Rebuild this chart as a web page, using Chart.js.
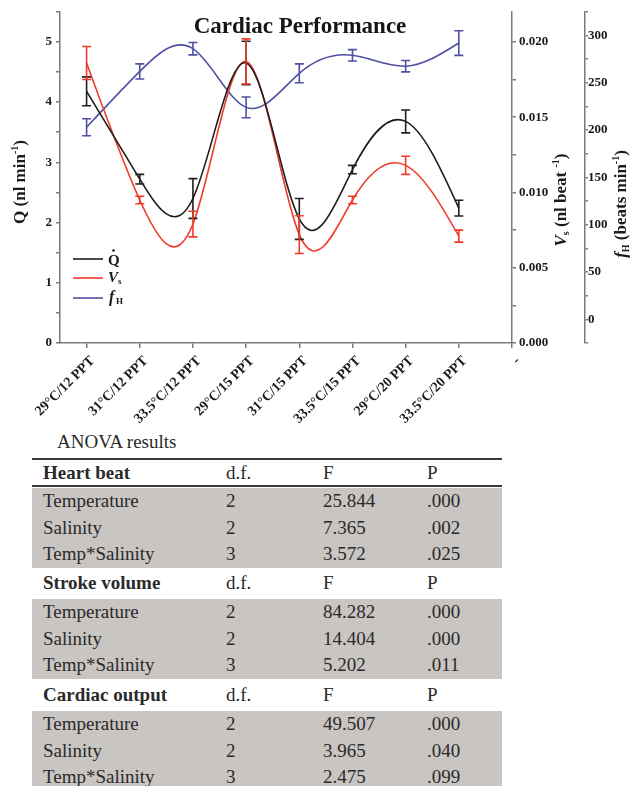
<!DOCTYPE html>
<html><head><meta charset="utf-8">
<script src="https://cdn.jsdelivr.net/npm/chart.js@4.4.1/dist/chart.umd.min.js"></script>
<style>
html,body{margin:0;padding:0;background:#fff;}
body{width:639px;height:786px;overflow:hidden;position:relative;font-family:"Liberation Serif","Times New Roman",serif;color:#2a2a2a;}
#wrap{position:absolute;left:0;top:0;width:639px;height:425px;}
#anova-title{position:absolute;left:57px;top:430px;font-size:19px;line-height:24px;}
.rule{position:absolute;left:32px;width:470px;height:2px;background:#3a3a3a;}
.row{position:absolute;left:32px;width:470px;font-size:19px;}
.row span{position:absolute;top:0;white-space:nowrap;}
.gray{background:#c9c5c2;}
</style></head>
<body>
<div id="wrap"><canvas id="c" width="639" height="425"></canvas></div>
<div id="anova-title">ANOVA results</div>
<div id="table"></div>
<script>
// ---- chart data ----
const categories = ['29°C/12 PPT','31°C/12 PPT','33.5°C/12 PPT','29°C/15 PPT','31°C/15 PPT','33.5°C/15 PPT','29°C/20 PPT','33.5°C/20 PPT'];
const extraTickLabel = '-';
const qValues  = [4.18, 2.72, 2.40, 4.65, 2.06, 2.88, 3.68, 2.24];
const qErrors  = [0.24, 0.08, 0.33, 0.36, 0.34, 0.07, 0.19, 0.13];
const vsValues = [0.0186, 0.0095, 0.0079, 0.0187, 0.0072, 0.0095, 0.0118, 0.0071];
const vsErrors = [0.0011, 0.00025, 0.00085, 0.0015, 0.00125, 0.00025, 0.0006, 0.0004];
const fhValues = [203, 262, 286, 224, 260, 279, 267.5, 292];
const fhErrors = [9, 8, 6.5, 11, 10, 6, 6, 13];
const qTicks  = [0,0.5,1,1.5,2,2.5,3,3.5,4,4.5,5,5.5];
const vsTicks = [0,0.0025,0.005,0.0075,0.01,0.0125,0.015,0.0175,0.02];
const fhTicks = [-25,0,25,50,75,100,125,150,175,200,225,250,275,300,325];

// ---- ANOVA table data ----
const sectionTitles = ['Heart beat','Stroke volume','Cardiac output'];
const factorNames = ['Temperature','Salinity','Temp*Salinity'];
const dfValues = [['2','2','3'],['2','2','3'],['2','2','3']];
const fValues = [['25.844','7.365','3.572'],['84.282','14.404','5.202'],['49.507','3.965','2.475']];
const pValues = [['.000','.002','.025'],['.000','.000','.011'],['.000','.040','.099']];

const FONT = '"Liberation Serif","Times New Roman",serif';
const BLACK = '#1e1e1e', RED = '#ef3b2c', BLUE = '#4f4fa3';
const AXIS = '#7a7a7a';

function pts(arr){ return arr.map((v,i)=>({x:i+1,y:v})); }

// natural cubic spline derivatives (per-segment parameter) for Bezier control points
function naturalDerivs(P){
  const n = P.length, a=[], b=[], c=[], r=[];
  b[0]=2; c[0]=1; r[0]=3*(P[1]-P[0]); a[0]=0;
  for(let i=1;i<n-1;i++){ a[i]=1; b[i]=4; c[i]=1; r[i]=3*(P[i+1]-P[i-1]); }
  a[n-1]=1; b[n-1]=2; c[n-1]=0; r[n-1]=3*(P[n-1]-P[n-2]);
  for(let i=1;i<n;i++){ const m=a[i]/b[i-1]; b[i]-=m*c[i-1]; r[i]-=m*r[i-1]; }
  const D=new Array(n); D[n-1]=r[n-1]/b[n-1];
  for(let i=n-2;i>=0;i--) D[i]=(r[i]-c[i]*D[i+1])/b[i];
  return D;
}
const splinePlugin = {
  id:'spline',
  beforeDatasetsDraw(chart){
    chart.data.datasets.forEach((ds,di)=>{
      const meta = chart.getDatasetMeta(di);
      const p = meta.data;
      ['x','y'].forEach(k=>{
        const P = p.map(e=>e[k]);
        const D = naturalDerivs(P);
        p.forEach((e,i)=>{ e['cp1'+k] = P[i]-D[i]/3; e['cp2'+k] = P[i]+D[i]/3; });
      });
      if(meta.dataset) meta.dataset._path = undefined;
    });
  }
};

const errorBarPlugin = {
  id:'errorBars',
  afterDatasetsDraw(chart){
    const ctx = chart.ctx;
    chart.data.datasets.forEach((ds,di)=>{
      const meta = chart.getDatasetMeta(di);
      const ys = chart.scales[ds.yAxisID];
      ctx.save();
      ctx.strokeStyle = ds.borderColor; ctx.lineWidth = 1.6;
      meta.data.forEach((el,i)=>{
        const v = ds.data[i].y, e = ds.errors[i];
        const x = el.x, y1 = ys.getPixelForValue(v+e), y2 = ys.getPixelForValue(v-e);
        ctx.beginPath();
        ctx.moveTo(x,y1); ctx.lineTo(x,y2);
        ctx.moveTo(x-4.5,y1); ctx.lineTo(x+4.5,y1);
        ctx.moveTo(x-4.5,y2); ctx.lineTo(x+4.5,y2);
        ctx.stroke();
      });
      ctx.restore();
    });
  }
};

function drawRich(ctx, parts, cx, cy, rot){
  ctx.save();
  ctx.translate(cx,cy); ctx.rotate(rot);
  let w = 0;
  parts.forEach(p=>{ ctx.font = p.font; p.w = ctx.measureText(p.t).width; w += p.w; });
  let x = -w/2;
  ctx.textBaseline = 'middle'; ctx.textAlign = 'left'; ctx.fillStyle = '#1a1a1a';
  parts.forEach(p=>{ ctx.font = p.font; ctx.fillText(p.t, x, p.dy||0); x += p.w; });
  ctx.restore();
}

const decorPlugin = {
  id:'decor',
  afterDraw(chart){
    const ctx = chart.ctx;
    const B16 = 'bold 17px '+FONT, BI16 = 'italic bold 17px '+FONT, B10 = 'bold 10px '+FONT;
    ctx.save();
    ctx.font = 'bold 23px '+FONT; ctx.fillStyle = '#151515';
    ctx.textAlign = 'center'; ctx.textBaseline = 'middle';
    ctx.fillText('Cardiac Performance', 300, 27);
    ctx.restore();
    drawRich(ctx,[{t:'Q (nl min',font:B16},{t:'-1',font:B10,dy:-6},{t:')',font:B16}], 21, 182, -Math.PI/2);
    drawRich(ctx,[{t:'V',font:BI16},{t:'s',font:B10,dy:4},{t:' (nl beat ',font:B16},{t:'-1',font:B10,dy:-6},{t:')',font:B16}], 562, 200, -Math.PI/2);
    drawRich(ctx,[{t:'f',font:BI16},{t:'H',font:B10,dy:4},{t:' (beats min',font:B16},{t:'-1',font:B10,dy:-6},{t:')',font:B16}], 622, 204, -Math.PI/2);
    const items = [{c:BLACK,y:259},{c:RED,y:278},{c:BLUE,y:298}];
    ctx.save();
    items.forEach(it=>{
      ctx.strokeStyle = it.c; ctx.lineWidth = 1.6;
      ctx.beginPath(); ctx.moveTo(73,it.y); ctx.lineTo(103,it.y); ctx.stroke();
    });
    ctx.fillStyle = '#1a1a1a'; ctx.textBaseline = 'middle'; ctx.textAlign='left';
    ctx.font = 'bold 15px '+FONT;
    ctx.fillText('Q', 108, 261);
    ctx.beginPath(); ctx.arc(113.5, 250.5, 1.3, 0, Math.PI*2); ctx.fill();
    ctx.font = 'italic bold 15px '+FONT; ctx.fillText('V', 108, 278);
    ctx.font = 'bold 9px '+FONT; ctx.fillText('s', 118, 282);
    ctx.font = 'italic bold 16px '+FONT; ctx.fillText('f', 109, 298);
    ctx.font = 'bold 9px '+FONT; ctx.fillText('H', 116, 302);
    ctx.restore();
  }
};

const gridCommon = {drawOnChartArea:false, drawTicks:true, tickLength:4, color:AXIS, lineWidth:1.5};
const borderCommon = {display:true, color:AXIS, width:1.5};
const tickFont = {family:FONT, weight:'bold', size:13};

new Chart(document.getElementById('c'), {
  type:'line',
  data:{ datasets:[
    {label:'Q', data:pts(qValues), errors:qErrors, yAxisID:'y', borderColor:BLACK},
    {label:'Vs', data:pts(vsValues), errors:vsErrors, yAxisID:'yVs', borderColor:RED},
    {label:'fH', data:pts(fhValues), errors:fhErrors, yAxisID:'yFh', borderColor:BLUE}
  ]},
  options:{
    responsive:false, animation:false,
    layout:{padding:{top:8,left:0,right:0,bottom:0}},
    elements:{ line:{tension:0.4, borderWidth:1.6, fill:false, capBezierPoints:false}, point:{radius:0, hoverRadius:0} },
    plugins:{legend:{display:false}, title:{display:false}, tooltip:{enabled:false}},
    scales:{
      x:{ type:'linear', min:0.5, max:9,
        afterBuildTicks:s=>{ s.ticks = [1,2,3,4,5,6,7,8,9].map(v=>({value:v})); },
        ticks:{autoSkip:false, minRotation:45, maxRotation:45, padding:5, labelOffset:6, color:'#1a1a1a', font:{family:FONT, weight:'bold', size:14},
          callback:v=> v<=categories.length ? categories[v-1] : extraTickLabel},
        grid:{...gridCommon, tickLength:5}, border:borderCommon,
        afterFit:s=>{ s.height = 82; } },
      y:{ position:'left', min:0, max:5.5,
        afterBuildTicks:s=>{ s.ticks = qTicks.map(v=>({value:v})); },
        ticks:{color:'#1a1a1a', font:tickFont, padding:4, callback:v=> Number.isInteger(v) ? String(v) : ''},
        grid:gridCommon, border:borderCommon,
        afterFit:s=>{ s.width = 60; } },
      yVs:{ position:'right', weight:0, min:0, max:0.022,
        afterBuildTicks:s=>{ s.ticks = vsTicks.map(v=>({value:v})); },
        ticks:{color:'#1a1a1a', font:tickFont, padding:3, callback:v=> (Math.abs(v/0.005-Math.round(v/0.005))<1e-6) ? v.toFixed(3) : ''},
        grid:gridCommon, border:borderCommon,
        afterFit:s=>{ s.width = 73; } },
      yFh:{ position:'right', weight:1, min:-25, max:325,
        afterBuildTicks:s=>{ s.ticks = fhTicks.map(v=>({value:v})); },
        ticks:{color:'#1a1a1a', font:tickFont, padding:0, callback:v=> (v%50===0 && v>=0 && v<=300) ? String(v) : ''},
        grid:{...gridCommon, tickLength:3}, border:borderCommon,
        afterFit:s=>{ s.width = 54; } }
    }
  },
  plugins:[splinePlugin, errorBarPlugin, decorPlugin]
});

// ---- ANOVA table ----
(function(){
  const t = document.getElementById('table');
  const cols = [11, 194, 291, 395];
  const layout = [
    {hdrTop:460, hdrH:26, grayTop:488},
    {hdrTop:567, hdrH:32, grayTop:599},
    {hdrTop:679, hdrH:32, grayTop:711}
  ];
  const rowH = 26.5;
  function addRow(top,h,cells,bold){
    const d = document.createElement('div');
    d.className = 'row';
    d.style.top = top+'px'; d.style.height = h+'px'; d.style.lineHeight = h+'px';
    cells.forEach((c,i)=>{ const s=document.createElement('span'); s.textContent=c; s.style.left=cols[i]+'px'; if(i===0 && bold) s.style.fontWeight='bold'; d.appendChild(s); });
    t.appendChild(d);
  }
  function rule(top){ const r=document.createElement('div'); r.className='rule'; r.style.top=top+'px'; t.appendChild(r); }
  rule(458);
  sectionTitles.forEach((name,si)=>{
    const L = layout[si];
    addRow(L.hdrTop, L.hdrH, [name,'d.f.','F','P'], true);
    if(si===0) rule(485);
    const g = document.createElement('div');
    g.className='row gray'; g.style.top=L.grayTop+'px'; g.style.height=(rowH*3)+'px';
    t.appendChild(g);
    factorNames.forEach((f,ri)=>{
      addRow(L.grayTop+ri*rowH, rowH, [f, dfValues[si][ri], fValues[si][ri], pValues[si][ri]], false);
    });
  });
})();
</script>
</body></html>
